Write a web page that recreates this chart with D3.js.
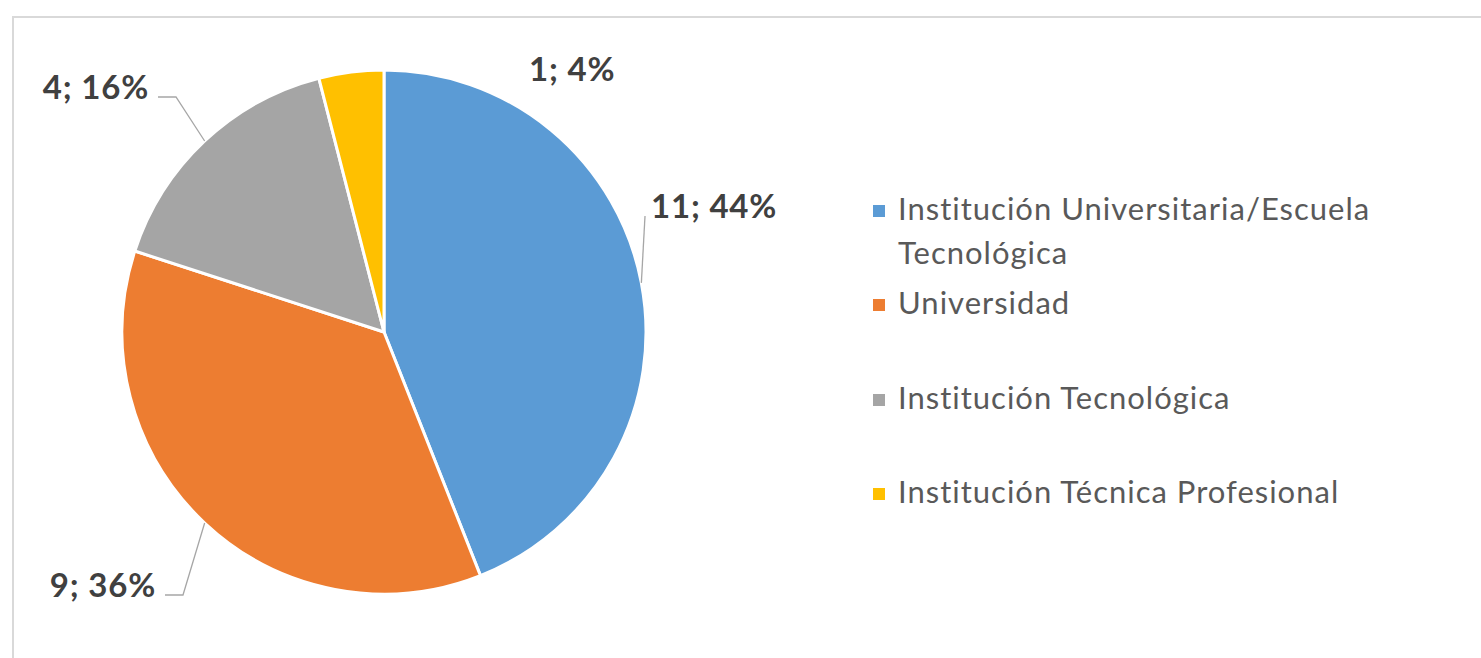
<!DOCTYPE html>
<html>
<head>
<meta charset="utf-8">
<script src="https://cdn.jsdelivr.net/npm/d3@7/dist/d3.min.js"></script>
<style>
  body { margin: 0; background: #fff; }
  svg { display: block; }
</style>
</head>
<body>
<div id="chart"></div>
<script>
const categories = ["Institución Universitaria/Escuela Tecnológica", "Universidad", "Institución Tecnológica", "Institución Técnica Profesional"];
const counts = [11, 9, 4, 1];
const percents = [44, 36, 16, 4];
const colors = ["#5B9BD5", "#ED7D31", "#A5A5A5", "#FFC000"];

const width = 1481;
const height = 658;
const cx = 384, cy = 332, radius = 262;

// label placement: where the text ends up and the elbow of the leader line
const labelLayout = [
  {x: 651, y: 218, anchor: "start", elbow: [645, 216], leader: true},
  {x: 156, y: 597, anchor: "end", elbow: [183, 595], leader: true},
  {x: 149, y: 99, anchor: "end", elbow: [176, 97], leader: true},
  {x: 529, y: 81, anchor: "start", elbow: null, leader: false}
];

const svg = d3.select("#chart").append("svg")
  .attr("width", width)
  .attr("height", height);

// outer frame
svg.append("rect")
  .attr("x", 13).attr("y", 17)
  .attr("width", width + 20).attr("height", height + 20)
  .attr("fill", "none")
  .attr("stroke", "#d9d9d9")
  .attr("stroke-width", 2);

const pie = d3.pie().sort(null).value(d => d);
const arcs = pie(counts);
const arc = d3.arc().innerRadius(0).outerRadius(radius);

const g = svg.append("g").attr("transform", `translate(${cx},${cy})`);

g.selectAll("path")
  .data(arcs)
  .join("path")
    .attr("d", arc)
    .attr("fill", (d, i) => colors[i])
    .attr("stroke", "#fff")
    .attr("stroke-width", 3)
    .attr("stroke-linejoin", "round");

// leader lines
arcs.forEach((d, i) => {
  const L = labelLayout[i];
  if (!L.leader) return;
  const a = (d.startAngle + d.endAngle) / 2;
  const px = cx + radius * Math.sin(a);
  const py = cy - radius * Math.cos(a);
  let pts;
  if (L.anchor === "end") {
    pts = [[px, py], L.elbow, [L.x + 9, L.elbow[1]]];
  } else {
    pts = [[px, py], L.elbow];
  }
  svg.append("path")
    .attr("d", d3.line()(pts))
    .attr("fill", "none")
    .attr("stroke", "#a6a6a6")
    .attr("stroke-width", 1.3);
});

// data labels
svg.selectAll("text.lbl")
  .data(arcs)
  .join("text")
    .attr("class", "lbl")
    .attr("x", (d, i) => labelLayout[i].x)
    .attr("y", (d, i) => labelLayout[i].y)
    .attr("text-anchor", (d, i) => labelLayout[i].anchor)
    .attr("font-family", "Lato, 'Open Sans', sans-serif")
    .attr("font-weight", "bold")
    .attr("font-size", 33)
    .attr("letter-spacing", 0.8)
    .attr("fill", "#404040")
    .text((d, i) => `${counts[i]}; ${percents[i]}%`);

// legend
const legendRows = [
  {lines: ["Institución Universitaria/Escuela", "Tecnológica"], y: 211},
  {lines: ["Universidad"], y: 305},
  {lines: ["Institución Tecnológica"], y: 400},
  {lines: ["Institución Técnica Profesional"], y: 494}
];

const legend = svg.append("g").attr("class", "legend");
categories.forEach((c, i) => {
  const row = legendRows[i];
  legend.append("rect")
    .attr("x", 873).attr("y", row.y - 6)
    .attr("width", 12).attr("height", 12)
    .attr("fill", colors[i]);
  const t = legend.append("text")
    .attr("x", 898)
    .attr("y", row.y + 9)
    .attr("font-family", "Lato, 'Open Sans', sans-serif")
    .attr("font-size", 31)
    .attr("letter-spacing", 1)
    .attr("fill", "#595959");
  row.lines.forEach((ln, j) => {
    t.append("tspan").attr("x", 898).attr("dy", j === 0 ? 0 : 44).text(ln);
  });
});
</script>
</body>
</html>
